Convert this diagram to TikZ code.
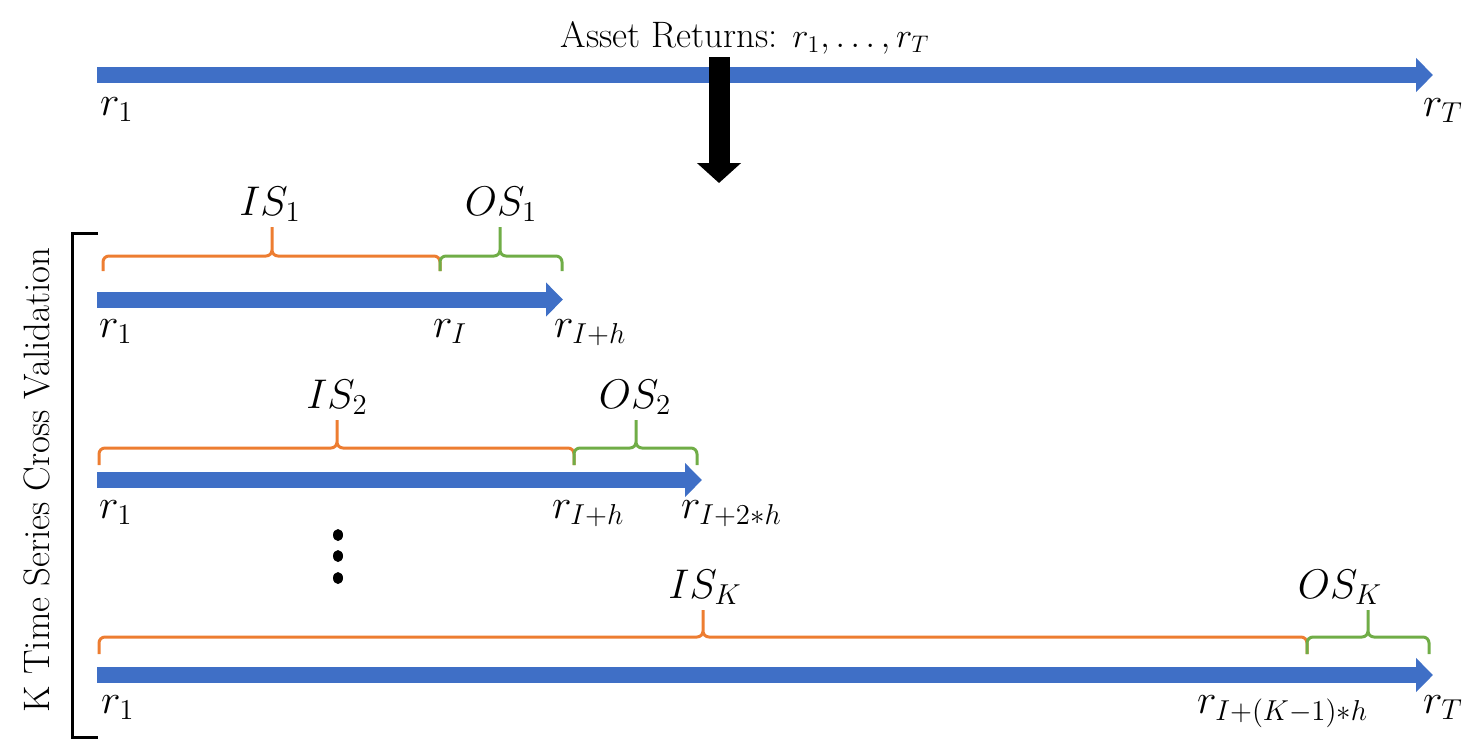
\documentclass[tikz,border=0pt]{standalone}
\usetikzlibrary{arrows.meta}

\definecolor{lineblue}{RGB}{63,111,198}
\definecolor{isorange}{RGB}{237,125,49}
\definecolor{osgreen}{RGB}{112,173,71}

\begin{document}
\begin{tikzpicture}[x=0.5pt,y=-0.5pt,
    timeline/.style={draw=lineblue,line width=8pt,-{Triangle[width=16.5pt,length=8.5pt]}},
    isbrace/.style={draw=isorange,line width=1.5pt,rounded corners=3pt},
    osbrace/.style={draw=osgreen,line width=1.5pt,rounded corners=3pt}]
  \useasboundingbox (0,0) rectangle (1476,740);

  % whole series
  \node[anchor=base,font=\fontsize{18.4}{22}\selectfont] (title) at (745,47) {Asset Returns: $r_1, \ldots, r_T$};
  \coordinate (full start) at (97,75);
  \coordinate (full end) at (1433,75);
  \draw[timeline] (full start) -- (full end);
  \coordinate (split top) at (719,57);
  \coordinate (split tip) at (719,183);
  \draw[line width=10.5pt,-{Triangle[width=21.5pt,length=10pt]}] (split top) -- (split tip);

  % the K folds
  \coordinate (fold1 start) at (97,299.5);
  \coordinate (fold1 end) at (563,299.5);
  \coordinate (fold2 start) at (97,480);
  \coordinate (fold2 end) at (702,480);
  \coordinate (foldK start) at (97,675);
  \coordinate (foldK end) at (1433,675);
  \draw[timeline] (fold1 start) -- (fold1 end);
  \draw[timeline] (fold2 start) -- (fold2 end);
  \draw[timeline] (foldK start) -- (foldK end);

  % in sample / out of sample braces
  \draw[isbrace] (103,271) |- (272,256) -- (272,227) (440,271) |- (272,256) -- (272,227);
  \draw[osbrace] (440,271) |- (500,256) -- (500,227) (562,271) |- (500,256) -- (500,227);
  \draw[isbrace] (99,465) |- (337,448) -- (337,420) (574,465) |- (337,448) -- (337,420);
  \draw[osbrace] (574,465) |- (636,448) -- (636,420) (697,465) |- (636,448) -- (636,420);
  \draw[isbrace] (99,654) |- (703,637) -- (703,610) (1307,654) |- (703,637) -- (703,610);
  \draw[osbrace] (1307,654) |- (1368,637) -- (1368,610) (1429,654) |- (1368,637) -- (1368,610);

  \begin{scope}[every node/.style={font=\fontsize{19.5}{23}\selectfont}]
    \node[anchor=base west] (full r1) at (93,115) {$r_1$};
    \node[anchor=base west] (full rT) at (1416,116) {$r_T$};

    \node[anchor=base] (is1) at (270,215) {$IS_1$};
    \node[anchor=base] (os1) at (501,215) {$OS_1$};
    \node[anchor=base west] (fold1 r1) at (92,337) {$r_1$};
    \node[anchor=base west] (fold1 rI) at (426,337) {$r_I$};
    \node[anchor=base west] (fold1 rIh) at (547,337) {$r_{I+h}$};

    \node[anchor=base] (is2) at (337,408) {$IS_2$};
    \node[anchor=base] (os2) at (635,408) {$OS_2$};
    \node[anchor=base west] (fold2 r1) at (92,518) {$r_1$};
    \node[anchor=base west] (fold2 rIh) at (545,518) {$r_{I+h}$};
    \node[anchor=base west] (fold2 rI2h) at (674,518) {$r_{I+2*h}$};

    \node[anchor=base] (isK) at (705,598) {$IS_K$};
    \node[anchor=base] (osK) at (1340,598) {$OS_K$};
    \node[anchor=base west] (foldK r1) at (94,713) {$r_1$};
    \node[anchor=base west] (foldK rIK) at (1190,713) {$r_{I+(K-1)*h}$};
    \node[anchor=base west] (foldK rT) at (1416,713) {$r_T$};
  \end{scope}

  % vertical dots between folds
  \fill (338,535) ellipse (5 and 6);
  \fill (338,556) ellipse (5 and 6);
  \fill (338,578) ellipse (5 and 6);

  % bracket round the folds
  \draw[line width=1.5pt] (98,233) -- (72,233) -- (72,737) -- (98,737);
  \node[rotate=90,font=\fontsize{18.4}{22}\selectfont] (cv) at (37,480) {K Time Series Cross Validation};
\end{tikzpicture}
\end{document}
